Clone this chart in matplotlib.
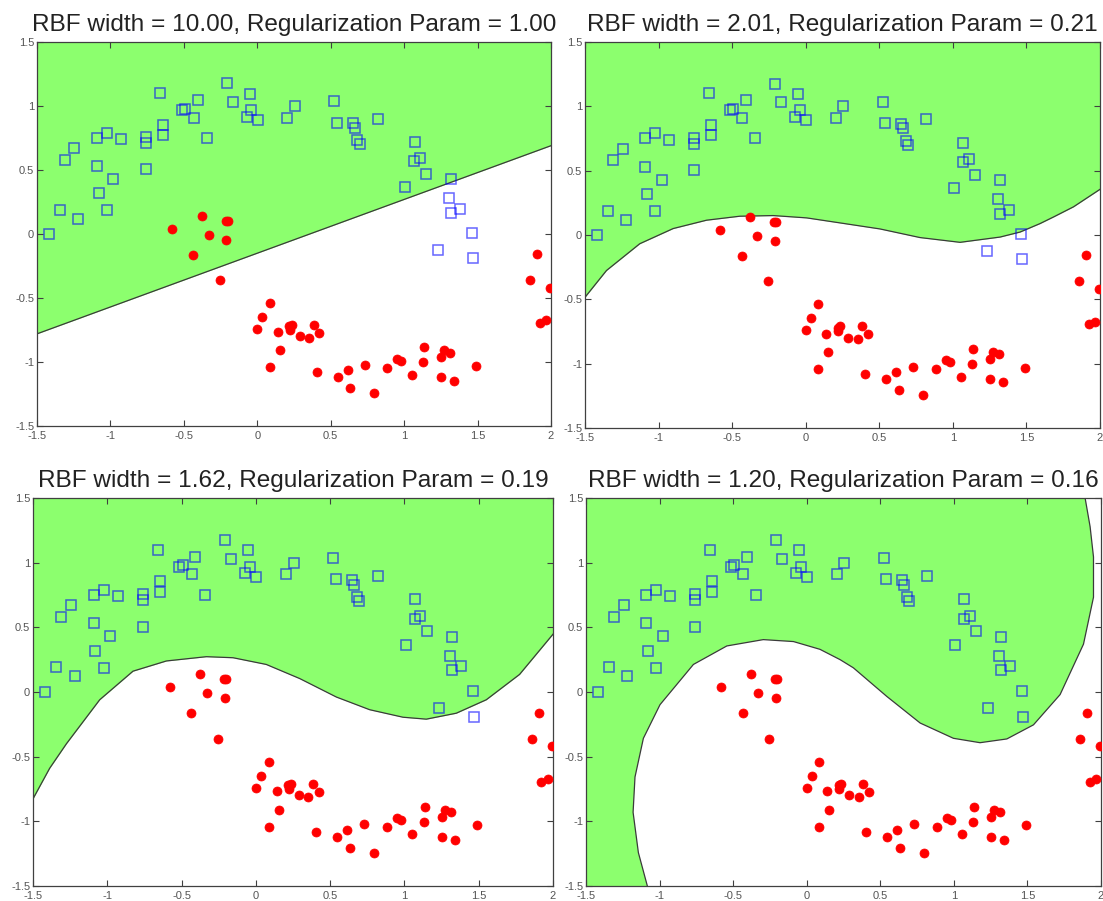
import numpy as np
import matplotlib
matplotlib.use("Agg")
import matplotlib.pyplot as plt

plt.rcParams['font.family'] = ['Liberation Sans', 'DejaVu Sans']
plt.rcParams['axes.unicode_minus'] = False

# class +1 (blue squares)
blue_x = [-1.42, -1.345, -1.22, -1.31, -1.245, -1.09, -1.025, -0.93, -1.09, -0.98,
          -1.08, -1.025, -0.76, -0.76, -0.757, -0.66, -0.645, -0.645, -0.516, -0.493,
          -0.407, -0.43, -0.345, -0.207, -0.166, -0.05, -0.041, -0.073, 0.002, 0.204,
          0.254, 0.522, 0.54, 0.65, 0.663, 0.679, 0.697, 0.82, 1.072, 1.108,
          1.068, 1.152, 1.009, 1.322, 1.306, 1.379, 1.318, 1.461, 1.231, 1.47]
blue_y = [0.0, 0.19, 0.12, 0.58, 0.67, 0.75, 0.79, 0.74, 0.53, 0.43,
          0.32, 0.185, 0.755, 0.71, 0.505, 1.10, 0.855, 0.775, 0.97, 0.98,
          1.047, 0.91, 0.75, 1.177, 1.03, 1.096, 0.97, 0.917, 0.89, 0.91,
          1.0, 1.037, 0.87, 0.865, 0.83, 0.734, 0.70, 0.90, 0.716, 0.59,
          0.568, 0.469, 0.365, 0.427, 0.281, 0.198, 0.167, 0.01, -0.125, -0.19]

# class -1 (red dots)
red_x = [-0.58, -0.378, -0.332, -0.214, -0.20, -0.211, -0.436, -0.257,
         0.086, 0.034, 0.0, 0.14, 0.218, 0.234, 0.222, 0.29, 0.154, 0.086,
         0.354, 0.384, 0.422, 0.404, 0.549, 0.616, 0.632, 0.731, 0.795, 0.883,
         0.952, 0.979, 1.054, 1.138, 1.131, 1.252, 1.27, 1.311, 1.25, 1.34, 1.488,
         1.856, 1.995, 1.922, 1.967, 1.904]
red_y = [0.039, 0.138, -0.01, 0.104, 0.104, -0.044, -0.164, -0.36,
         -0.54, -0.648, -0.74, -0.768, -0.72, -0.708, -0.747, -0.80, -0.91, -1.04,
         -0.81, -0.711, -0.773, -1.08, -1.12, -1.065, -1.206, -1.023, -1.242, -1.044,
         -0.974, -0.99, -1.10, -0.886, -1.003, -0.964, -0.909, -0.927, -1.12, -1.146, -1.031,
         -0.36, -0.42, -0.695, -0.674, -0.159]

titles = ["RBF width = 10.00, Regularization Param = 1.00",
          "RBF width = 2.01, Regularization Param = 0.21",
          "RBF width = 1.62, Regularization Param = 0.19",
          "RBF width = 1.20, Regularization Param = 0.16"]

# decision boundaries
bnd1_x = [-1.5, 2.0]
bnd1_y = [-0.78, 0.69]
bnd2_x = [-1.5, -1.354, -1.128, -0.901, -0.674, -0.448, -0.221, 0.006, 0.233, 0.505,
          0.777, 1.049, 1.321, 1.457, 1.593, 1.684, 1.82, 2.0]
bnd2_y = [-0.484, -0.276, -0.068, 0.05, 0.115, 0.146, 0.151, 0.133, 0.094, 0.047,
          -0.02, -0.057, -0.016, 0.023, 0.089, 0.14, 0.219, 0.355]
bnd3_x = [-1.5, -1.388, -1.275, -1.051, -0.827, -0.602, -0.333, -0.154, 0.07, 0.295,
          0.542, 0.766, 0.99, 1.147, 1.349, 1.551, 1.775, 2.0]
bnd3_y = [-0.826, -0.59, -0.40, -0.06, 0.161, 0.24, 0.273, 0.265, 0.213, 0.104,
          -0.039, -0.137, -0.195, -0.21, -0.164, -0.06, 0.136, 0.447]
bnd4_x = [-1.083, -1.144, -1.18, -1.167, -1.11, -0.997, -0.77, -0.543, -0.295, -0.09,
          0.09, 0.227, 0.317, 0.544, 0.771, 0.997, 1.178, 1.36, 1.541, 1.722,
          1.881, 1.949, 1.949, 1.926, 1.892]
bnd4_y = [-1.5, -1.242, -0.93, -0.657, -0.358, -0.098, 0.213, 0.356, 0.405, 0.39,
          0.33, 0.25, 0.187, -0.034, -0.24, -0.358, -0.392, -0.363, -0.254, -0.02,
          0.37, 0.733, 1.044, 1.278, 1.5]

ticks = [-1.5, -1, -0.5, 0, 0.5, 1, 1.5, 2]
tick_labels = ["-1.5", "-1", "-0.5", "0", "0.5", "1", "1.5", "2"]
yticks = [-1.5, -1, -0.5, 0, 0.5, 1, 1.5]
ytick_labels = ["-1.5", "-1", "-0.5", "0", "0.5", "1", "1.5"]

GREEN = "#8cff6e"
W, H = 1103, 901
# axes boxes in pixels: left, right, top, bottom
boxes = [(37, 551, 42, 426), (585, 1100, 42, 428),
         (33, 553, 498, 886), (586, 1101, 498, 886)]

fig = plt.figure(figsize=(W / 100, H / 100), dpi=100)

for i, (l, r, t, b) in enumerate(boxes):
    ax = fig.add_axes([l / W, 1 - b / H, (r - l) / W, (b - t) / H])
    ax.set_xlim(-1.5, 2)
    ax.set_ylim(-1.5, 1.5)

    if i < 3:
        bx = [bnd1_x, bnd2_x, bnd3_x][i]
        by = [bnd1_y, bnd2_y, bnd3_y][i]
        ax.fill_between(bx, by, 1.5, color=GREEN, lw=0, zorder=1)
        ax.plot(bx, by, color="#3a3a3a", lw=0.9, zorder=2)
    else:
        px = bnd4_x + [-1.5, -1.5]
        py = bnd4_y + [1.5, -1.5]
        ax.fill(px, py, color=GREEN, lw=0, zorder=1)
        ax.plot(bnd4_x, bnd4_y, color="#3a3a3a", lw=0.9, zorder=2)

    ax.plot(blue_x, blue_y, ls="none", marker="s", ms=6.5, mfc="none",
            mec="blue", mew=1.1, alpha=0.6, zorder=3)
    ax.plot(red_x, red_y, ls="none", marker="o", ms=6.5, mfc="red",
            mec="red", mew=0.5, zorder=3)

    ax.set_xticks(ticks)
    ax.set_xticklabels(tick_labels)
    ax.set_yticks(yticks)
    ax.set_yticklabels(ytick_labels)
    ax.tick_params(direction="in", top=True, right=True, length=4, width=0.8,
                   labelsize=8, labelcolor="#555555", color="#404040", pad=2)
    ax.tick_params(axis="x", pad=3.5)
    for s in ax.spines.values():
        s.set_color("#404040")
        s.set_linewidth(0.9)

    ax.set_title(titles[i], fontsize=17.6, color="#222222", pad=8)

fig.savefig("out.png", dpi=100)
